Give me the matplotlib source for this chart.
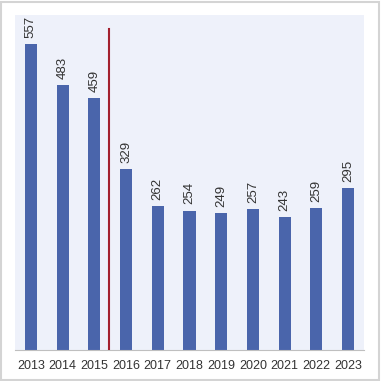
import matplotlib
matplotlib.use("Agg")
import matplotlib.pyplot as plt
from matplotlib.patches import Rectangle

years = ["2013", "2014", "2015", "2016", "2017", "2018", "2019", "2020", "2021", "2022", "2023"]
values = [557, 483, 459, 329, 262, 254, 249, 257, 243, 259, 295]
marker_pos = 2.47
marker_top = 585

plt.rcParams['font.family'] = ['Liberation Sans', 'DejaVu Sans']

fig = plt.figure(figsize=(3.81, 3.81), dpi=100)
fig.patch.set_facecolor('white')
fig.add_artist(Rectangle((0.002, 0.002), 0.994, 0.994, transform=fig.transFigure,
                         fill=False, edgecolor='#d4d4d4', linewidth=1.5))
ax = fig.add_axes([15/381, 31/381, 349/381, 335/381])
ax.set_facecolor('#eef1fa')
x = list(range(len(years)))
ax.bar(x, values, width=0.38, color='#4a65ab', zorder=2)
for xi, v in zip(x, values):
    ax.text(xi, v + 11, str(v), rotation=90, ha='center', va='bottom', fontsize=9.5, color='#333333')
ax.plot([marker_pos, marker_pos], [0, marker_top], color='#a3202e', linewidth=1.5, zorder=3)
ax.set_xlim(-0.5, len(years) - 0.5)
ax.set_ylim(0, 610)
ax.set_xticks(x)
ax.set_xticklabels(years, fontsize=9, color='#333333')
ax.set_yticks([])
ax.tick_params(axis='x', length=0, pad=7)
for s in ['top', 'right', 'left']:
    ax.spines[s].set_visible(False)
ax.spines['bottom'].set_color('#bfbfbf')
fig.savefig('out.png', dpi=100)
